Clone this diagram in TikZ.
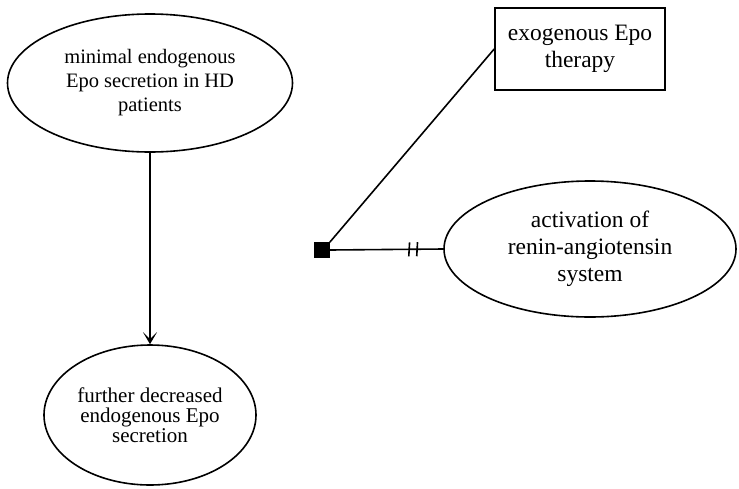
\documentclass[tikz,border=0pt]{standalone}
\usepackage{fontspec}
\setmainfont{Liberation Serif}
\usetikzlibrary{shapes.geometric,arrows.meta}
\begin{document}
\begin{tikzpicture}[x=1pt,y=1pt,
  every node/.style={line width=1.6pt},
  ell/.style={draw,ellipse,inner sep=0pt,align=center},
  rbox/.style={draw,rectangle,inner sep=0pt,align=center},
  conn/.style={line width=1.6pt}]
\useasboundingbox (0,-488) rectangle (739,0);
\node[ell,minimum width=285pt,minimum height=138pt,font=\fontsize{20.5}{24}\selectfont] (e1) at (150,-83)
  {minimal endogenous\\Epo secretion in HD\\patients};
\node[ell,minimum width=212pt,minimum height=140pt,font=\fontsize{21}{20}\selectfont] (e2) at (150,-415)
  {further decreased\\endogenous Epo\\secretion};
\node[rbox,minimum width=170pt,minimum height=82pt,font=\fontsize{23.5}{27}\selectfont] (r) at (580,-49)
  {exogenous Epo\\therapy};
\node[ell,minimum width=292pt,minimum height=136pt,font=\fontsize{23.5}{27}\selectfont] (e3) at (590,-249)
  {activation of\\renin-angiotensin\\system};
\node[draw,fill=black,minimum size=14pt,inner sep=0pt] (sq) at (322,-250) {};
\draw[conn,-{Stealth[length=12pt,width=14pt,inset=7pt]}] (e1.south) -- (e2.north);
\draw[conn] (sq.north east) -- (r.west);
\draw[conn] (sq.east) -- (e3.west)
  coordinate[pos=0.70] (b1) coordinate[pos=0.77] (b2);
\draw[conn] ([shift={(-0.4,-7)}]b1) -- ([shift={(0.4,7)}]b1);
\draw[conn] ([shift={(-0.4,-7)}]b2) -- ([shift={(0.4,7)}]b2);
\end{tikzpicture}
\end{document}
